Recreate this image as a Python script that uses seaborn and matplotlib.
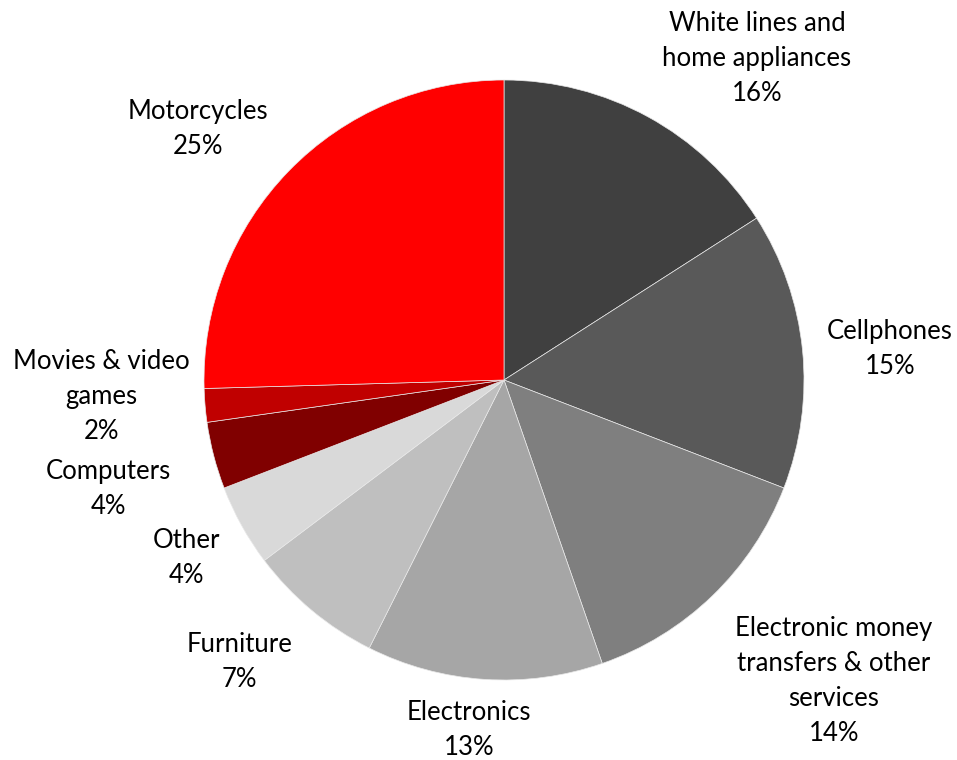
import matplotlib
matplotlib.use("Agg")
import matplotlib.pyplot as plt
import seaborn as sns

categories = ["White lines and\nhome appliances", "Cellphones",
              "Electronic money\ntransfers & other\nservices", "Electronics",
              "Furniture", "Other", "Computers", "Movies & video\ngames", "Motorcycles"]
values = [15.9, 14.9, 13.8, 12.7, 7.3, 4.4, 3.6, 1.8, 25.4]
colors = ["#404040", "#595959", "#7f7f7f", "#a6a6a6", "#bfbfbf", "#d9d9d9",
          "#800000", "#c00000", "#ff0000"]
# label positions (data coords, radius = 1)
label_pos = [(0.843, 1.071), (1.287, 0.105), (1.10, -1.002), (-0.117, -1.168),
             (-0.883, -0.939), (-1.06, -0.592), (-1.32, -0.365), (-1.343, -0.055),
             (-1.02, 0.838)]

sns.set_theme(style="white")
plt.rcParams['font.family'] = ['Lato', 'DejaVu Sans']

fig = plt.figure(figsize=(9.57, 7.6), dpi=100)
ax = fig.add_axes([(504 - 300) / 957, (760 - 680) / 760, 600 / 957, 600 / 760])
ax.pie(values, colors=colors, startangle=90, counterclock=False, radius=1,
       wedgeprops=dict(edgecolor="#e8e8e8", linewidth=0.5))
total = sum(values)
for cat, v, (x, y) in zip(categories, values, label_pos):
    ax.text(x, y, f"{cat}\n{round(v / total * 100)}%", ha="center", va="center",
            fontsize=18.5, color="black", linespacing=1.5)
ax.set_xlim(-1, 1)
ax.set_ylim(-1, 1)
ax.set_aspect("equal")
ax.axis("off")
fig.savefig("out.png", dpi=100)
